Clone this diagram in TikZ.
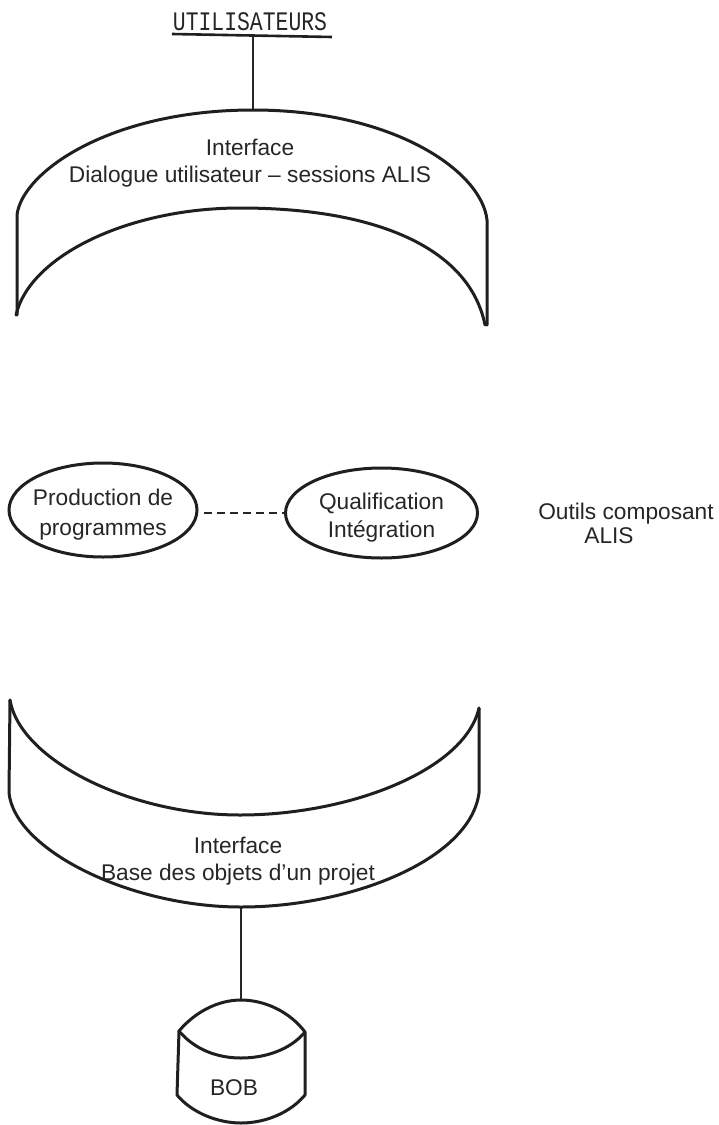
\documentclass[tikz,border=0pt]{standalone}
\usepackage{graphicx}
\usepackage{fontspec}
\setmainfont{Liberation Sans}
\setmonofont{Liberation Mono}
\usetikzlibrary{shapes.geometric}
\tikzset{
  heavy/.style={line width=3pt,line cap=round,line join=round,black!88},
  thin link/.style={line width=1.1pt,black!85},
  oval/.style={ellipse,draw,line width=3pt,black!88,text=black!85,inner ysep=0pt,inner xsep=-6pt,align=center,font=\fontsize{22.7}{28}\selectfont},
  label/.style={inner sep=0pt,align=center,text=black!85,font=\fontsize{22.7}{27}\selectfont},
}
\begin{document}
\begin{tikzpicture}[x=1pt,y=-1pt]
\useasboundingbox (0,0) rectangle (718,1125);
% labels
\node[inner sep=0pt,text=black!85,font=\ttfamily\fontsize{21.4}{24}\selectfont] (util) at (250,22) {\scalebox{1}[1.25]{UTILISATEURS}};
\coordinate (ubar) at (253,35);
\coordinate (top1) at (253,110);
\node[label] (if1) at (250,163.5) {Interface\\Dialogue utilisateur -- sessions ALIS};
\node[oval,minimum width=188pt,minimum height=94pt] (prod) at (103,510) {\rule{0pt}{25pt}Production de\\[2pt]programmes};
\node[oval,minimum width=192pt,minimum height=90pt] (qual) at (381.5,513) {\rule{0pt}{25pt}Qualification\\Intégration};
\node[label] (tool1) at (626,514) {Outils composant};
\node[label] (tool2) at (609,536) {ALIS};
\node[label] (if2) at (238,861.5) {Interface\\Base des objets d'un projet};
\coordinate (bot2) at (241,907);
\coordinate (bobtop) at (241,1000);
\coordinate (dashstart) at (204,513);
\node[label] (bob) at (234,1088) {BOB};
% underline and connectors
\draw[line width=2.6pt,black!88] (172,34) -- (332,37);
\draw[thin link] (ubar) -- (top1);
\draw[thin link,dash pattern=on 8pt off 5pt] (dashstart) -- (qual.west);
\draw[thin link] (bot2) -- (bobtop);
% upper band
\draw[heavy] (17,315) -- (17,215) .. controls (22,172) and (110,110) .. (top1)
  .. controls (395,110) and (482,172) .. (487,220) -- (487,325);
\draw[heavy] (16,315) .. controls (30,255) and (130,208) .. (240,208)
  .. controls (380,208) and (470,250) .. (485,325);
% lower band
\draw[heavy] (10,700) -- (9,793) .. controls (15,850) and (130,907) .. (bot2)
  .. controls (350,907) and (470,860) .. (479,793) -- (479,708);
\draw[heavy] (10,700) .. controls (20,760) and (130,815) .. (240,815)
  .. controls (350,815) and (465,770) .. (479,708);
% BOB cylinder
\draw[heavy] (179,1031) .. controls (195,1012) and (218,1000) .. (bobtop)
  .. controls (265,1000) and (290,1012) .. (305,1032) -- (305,1095)
  .. controls (290,1113) and (265,1123) .. (241,1123)
  .. controls (218,1123) and (192,1113) .. (177,1095) -- (179,1031);
\draw[heavy] (179,1031) .. controls (195,1050) and (218,1058) .. (241,1058)
  .. controls (265,1058) and (290,1050) .. (305,1032);
\end{tikzpicture}
\end{document}
